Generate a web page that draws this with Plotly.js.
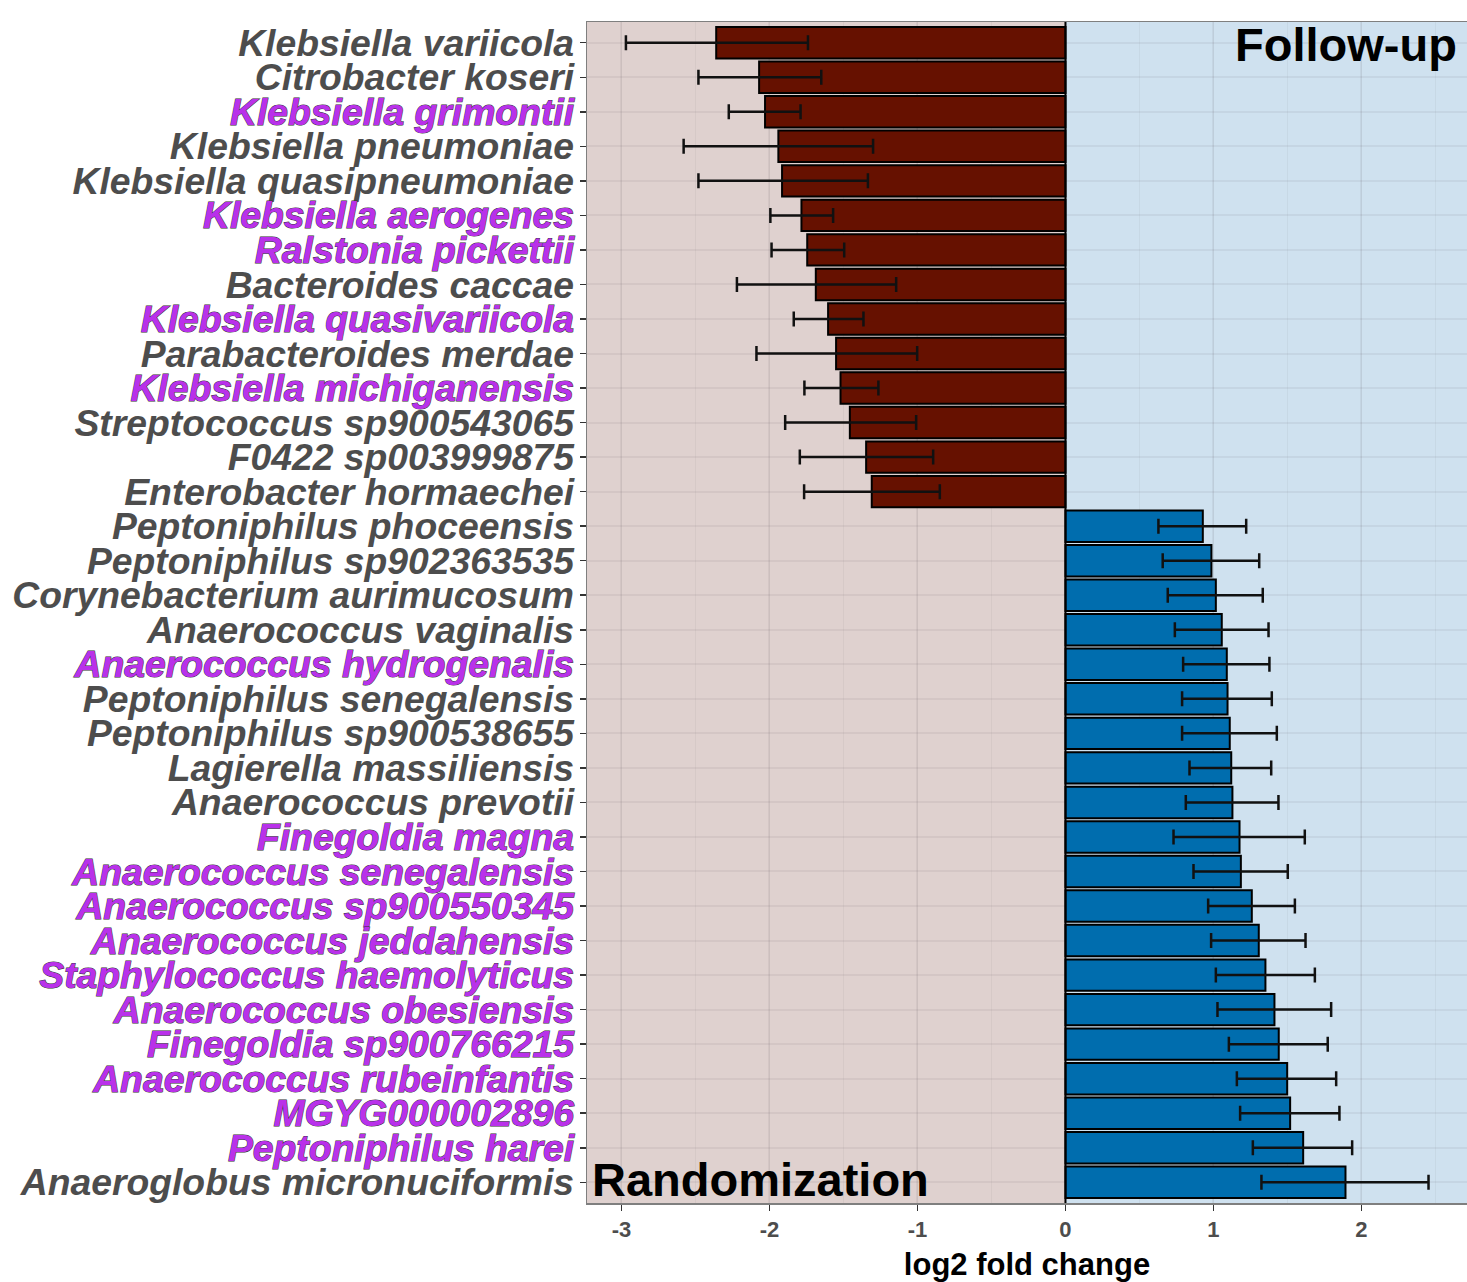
<!DOCTYPE html>
<html>
<head>
<meta charset="utf-8">
<script src="https://cdn.plot.ly/plotly-3.0.1.min.js"></script>
<style>html,body{margin:0;padding:0;background:#fff;}#chart{width:1467px;height:1282px;}</style>
</head>
<body>
<div id="chart"></div>
<script>
// ---- data (top to bottom) ----
const species = [
  "Klebsiella variicola","Citrobacter koseri","Klebsiella grimontii","Klebsiella pneumoniae",
  "Klebsiella quasipneumoniae","Klebsiella aerogenes","Ralstonia pickettii","Bacteroides caccae",
  "Klebsiella quasivariicola","Parabacteroides merdae","Klebsiella michiganensis","Streptococcus sp900543065",
  "F0422 sp003999875","Enterobacter hormaechei","Peptoniphilus phoceensis","Peptoniphilus sp902363535",
  "Corynebacterium aurimucosum","Anaerococcus vaginalis","Anaerococcus hydrogenalis","Peptoniphilus senegalensis",
  "Peptoniphilus sp900538655","Lagierella massiliensis","Anaerococcus prevotii","Finegoldia magna",
  "Anaerococcus senegalensis","Anaerococcus sp900550345","Anaerococcus jeddahensis","Staphylococcus haemolyticus",
  "Anaerococcus obesiensis","Finegoldia sp900766215","Anaerococcus rubeinfantis","MGYG000002896",
  "Peptoniphilus harei","Anaeroglobus micronuciformis"
];
const log2fc = [
  -2.36,-2.07,-2.03,-1.94,-1.915,-1.784,-1.745,-1.687,-1.604,-1.55,-1.52,-1.457,-1.347,-1.309,
  0.928,0.986,1.016,1.056,1.09,1.095,1.11,1.12,1.128,1.176,1.185,1.259,1.306,1.351,1.412,1.441,1.498,1.518,1.606,1.892
];
const errMinus = [
  0.61,0.41,0.245,0.64,0.565,0.21,0.241,0.533,0.232,0.538,0.244,0.437,0.448,0.457,
  0.30,0.329,0.325,0.317,0.295,0.307,0.322,0.282,0.315,0.446,0.32,0.295,0.322,0.335,0.385,0.337,0.34,0.338,0.34,0.568
];
const errPlus = [
  0.62,0.42,0.24,0.64,0.58,0.214,0.25,0.543,0.239,0.548,0.256,0.448,0.453,0.46,
  0.293,0.323,0.317,0.316,0.288,0.299,0.318,0.27,0.311,0.441,0.317,0.291,0.316,0.334,0.383,0.331,0.331,0.333,0.331,0.561
];
const highlighted = [
  "Klebsiella grimontii","Klebsiella aerogenes","Ralstonia pickettii","Klebsiella quasivariicola",
  "Klebsiella michiganensis","Anaerococcus hydrogenalis","Finegoldia magna","Anaerococcus senegalensis",
  "Anaerococcus sp900550345","Anaerococcus jeddahensis","Staphylococcus haemolyticus","Anaerococcus obesiensis",
  "Finegoldia sp900766215","Anaerococcus rubeinfantis","MGYG000002896","Peptoniphilus harei"
];
const xTicks = [-3,-2,-1,0,1,2];
const groupLabels = ["Follow-up","Randomization"];

// ---- build ----
const idx = species.map((_, i) => i);
function makeTrace(filterFn, color) {
  const ii = idx.filter(i => filterFn(log2fc[i]));
  return {
    type: 'bar', orientation: 'h',
    x: ii.map(i => log2fc[i]), y: ii,
    width: 0.91,
    marker: {color: color, line: {color: '#000000', width: 2}},
    error_x: {type: 'data', symmetric: false,
      array: ii.map(i => errPlus[i]), arrayminus: ii.map(i => errMinus[i]),
      color: '#111111', thickness: 2.5, width: 7.5},
    hoverinfo: 'skip', showlegend: false
  };
}
const traces = [
  makeTrace(v => v < 0, '#661100'),
  makeTrace(v => v >= 0, '#006DAE')
];

const tickText = species.map(s => highlighted.includes(s)
  ? '<span style="fill:#b931ea;stroke:#333333;stroke-width:1px;paint-order:stroke">' + s + '</span>'
  : s);

const xMin = -3.233, xMax = 2.713;
const layout = {
  width: 1467, height: 1282,
  margin: {l: 587, r: 0, t: 22, b: 79},
  paper_bgcolor: '#ffffff', plot_bgcolor: '#ffffff',
  barmode: 'overlay',
  font: {family: 'Liberation Sans, Arial, sans-serif'},
  xaxis: {
    range: [xMin, xMax], tickvals: xTicks, ticktext: xTicks.map(String),
    showgrid: true, gridcolor: 'rgba(90,80,90,0.08)', gridwidth: 2,
    minor: {dtick: 0.5, tick0: 0, showgrid: true, gridcolor: 'rgba(90,80,90,0.06)', gridwidth: 1.2},
    zeroline: false,
    showline: true, mirror: true, linecolor: '#7f7f7f', linewidth: 1.5,
    ticks: 'outside', ticklen: 6, tickwidth: 1.5, tickcolor: '#333333',
    tickfont: {size: 22, color: '#4d4d4d', weight: 'bold'},
    title: {text: 'log2 fold change', font: {size: 31, color: '#000000', weight: 'bold'}, standoff: 14},
    automargin: false
  },
  yaxis: {
    range: [species.length - 1 + 0.6, -0.6],
    tickvals: idx, ticktext: tickText,
    showgrid: true, gridcolor: 'rgba(90,80,90,0.08)', gridwidth: 2,
    zeroline: false,
    showline: true, mirror: true, linecolor: '#7f7f7f', linewidth: 1.5,
    ticks: 'outside', ticklen: 6, tickwidth: 1.5, tickcolor: '#333333',
    ticklabelstandoff: -2,
    tickfont: {size: 37.3, color: '#4d4d4d', weight: 'bold', style: 'italic'},
    automargin: false
  },
  shapes: [
    {type: 'rect', layer: 'below', xref: 'x', yref: 'paper', x0: xMin, x1: 0, y0: 0, y1: 1,
     fillcolor: '#DFD1CF', line: {width: 0}},
    {type: 'rect', layer: 'below', xref: 'x', yref: 'paper', x0: 0, x1: xMax, y0: 0, y1: 1,
     fillcolor: '#CFE1EF', line: {width: 0}},
    {type: 'line', layer: 'above', xref: 'x', yref: 'paper', x0: 0, x1: 0, y0: 0, y1: 1,
     line: {color: '#000000', width: 2}}
  ],
  annotations: [
    {text: groupLabels[0], xref: 'x', yref: 'paper', x: 2.66, y: 0.981, xanchor: 'right', yanchor: 'middle',
     showarrow: false, font: {size: 47, color: '#000000', weight: 'bold'}},
    {text: groupLabels[1], xref: 'x', yref: 'paper', x: -3.215, y: 0.0203, xanchor: 'left', yanchor: 'middle',
     showarrow: false, font: {size: 47, color: '#000000', weight: 'bold'}}
  ]
};
Plotly.newPlot('chart', traces, layout, {displayModeBar: false, staticPlot: true});
</script>
</body>
</html>
